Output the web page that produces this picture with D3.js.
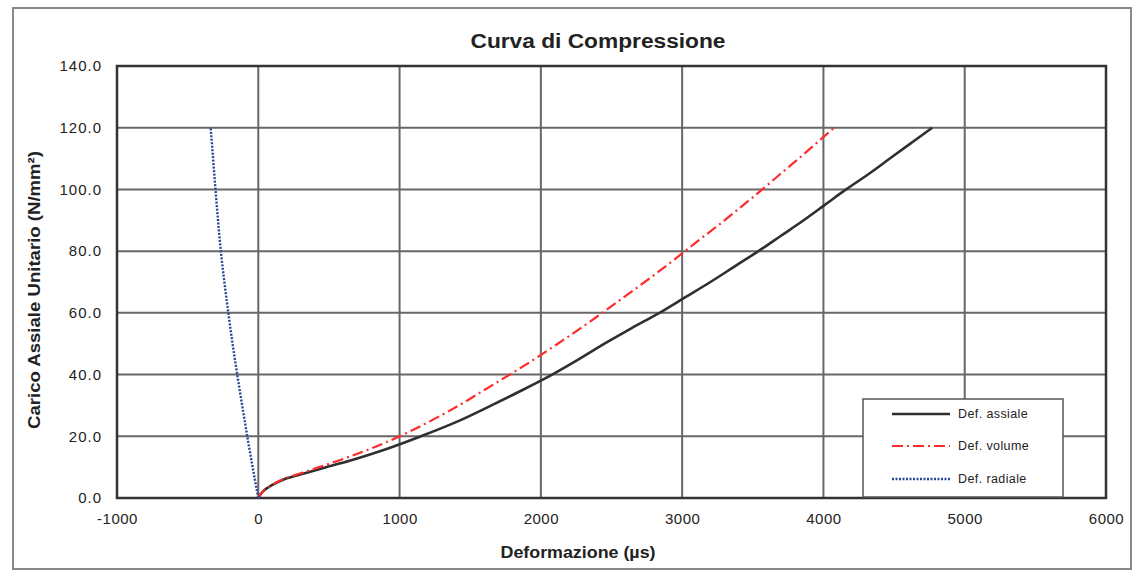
<!DOCTYPE html>
<html><head><meta charset="utf-8">
<script src="https://cdn.jsdelivr.net/npm/d3@7"></script>
<style>body{margin:0;background:#fff;}svg{display:block;font-family:Arial,"Liberation Sans",sans-serif;}</style>
</head><body><svg id="c" width="1138" height="578"></svg>
<script>
const stress = [0,2,4,6,8,10,12,15,20,25,30,35,40,45,50,55,60,65,70,75,80,85,90,95,100,105,110,115,120];
const axialStrain = [0,30,90,180,330,480,640,850,1150,1420,1650,1870,2080,2270,2450,2640,2840,3020,3200,3370,3540,3700,3860,4010,4160,4320,4470,4620,4770];
const volumeStrain = [0,30,90,170,300,430,560,740,1000,1220,1420,1600,1780,1955,2120,2280,2435,2585,2735,2880,3020,3160,3300,3435,3567,3695,3825,3950,4076];
const radialStress = [0,10,20,30,40,50,60,70,80,90,100,110,120];
const radialStrain = [0,-40,-78,-114,-149,-182,-212,-240,-265,-285,-303,-320,-337];
const xTicks = [-1000,0,1000,2000,3000,4000,5000,6000];
const yTicks = [0,20,40,60,80,100,120,140];
const seriesNames = ["Def. assiale","Def. volume","Def. radiale"];

const svg = d3.select("#c");
const L=117,R=1106,T=66,B=498;
const x = d3.scaleLinear().domain([-1000,6000]).range([L,R]);
const y = d3.scaleLinear().domain([0,140]).range([B,T]);

// outer frame
svg.append("rect").attr("x",13).attr("y",8).attr("width",1118).attr("height",561)
  .attr("fill","none").attr("stroke","#888").attr("stroke-width",2);

// grid
svg.append("g").selectAll("line").data(xTicks).join("line")
  .attr("x1",d=>x(d)).attr("x2",d=>x(d)).attr("y1",T).attr("y2",B)
  .attr("stroke","#6a6666").attr("stroke-width",2);
svg.append("g").selectAll("line").data(yTicks).join("line")
  .attr("x1",L).attr("x2",R).attr("y1",d=>y(d)).attr("y2",d=>y(d))
  .attr("stroke","#6a6666").attr("stroke-width",2);
svg.append("rect").attr("x",L).attr("y",T).attr("width",R-L).attr("height",B-T)
  .attr("fill","none").attr("stroke","#333").attr("stroke-width",2.5);

// axes labels
const xAxis = d3.axisBottom(x).tickValues(xTicks).tickSize(0).tickPadding(15).tickFormat(d=>String(d));
const gx = svg.append("g").attr("transform",`translate(0,${B})`).call(xAxis);
gx.select(".domain").remove();
gx.selectAll("text").attr("font-size",15).attr("letter-spacing",0.5).attr("fill","#222").attr("font-family","Arial");
const yAxis = d3.axisLeft(y).tickValues(yTicks).tickSize(0).tickPadding(15).tickFormat(d3.format(".1f"));
const gy = svg.append("g").attr("transform",`translate(${L},0)`).call(yAxis);
gy.select(".domain").remove();
gy.selectAll("text").attr("font-size",15).attr("letter-spacing",1).attr("fill","#222").attr("font-family","Arial");

// title & axis titles
svg.append("text").attr("x",598).attr("y",48).attr("text-anchor","middle")
  .attr("font-size",20).attr("font-weight","bold").attr("fill","#222")
  .attr("textLength",255).attr("lengthAdjust","spacingAndGlyphs").text("Curva di Compressione");
svg.append("text").attr("x",578).attr("y",558).attr("text-anchor","middle")
  .attr("font-size",16).attr("font-weight","bold").attr("fill","#222")
  .attr("textLength",155).attr("lengthAdjust","spacingAndGlyphs").text("Deformazione (µs)");
svg.append("text").attr("transform","translate(40,290) rotate(-90)").attr("text-anchor","middle")
  .attr("font-size",16).attr("font-weight","bold").attr("fill","#222")
  .attr("textLength",278).attr("lengthAdjust","spacingAndGlyphs").text("Carico Assiale Unitario (N/mm²)");

// series
const line = d3.line().curve(d3.curveMonotoneY);
const axialPts = stress.map((s,i)=>[x(axialStrain[i]),y(s)]);
const volPts = stress.map((s,i)=>[x(volumeStrain[i]),y(s)]);
const radPts = radialStress.map((s,i)=>[x(radialStrain[i]),y(s)]);
const styles = [
  {color:"#2f2f2f",w:2.6,dash:null},
  {color:"#ff2b2b",w:2.2,dash:"11,4,2,4"},
  {color:"#2b4596",w:2.4,dash:"2,1.5"}
];
[axialPts,volPts,radPts].forEach((pts,i)=>{
  svg.append("path").attr("d",line(pts)).attr("fill","none")
    .attr("stroke",styles[i].color).attr("stroke-width",styles[i].w)
    .attr("stroke-dasharray",styles[i].dash);
});

// legend
const lg = svg.append("g");
lg.append("rect").attr("x",863).attr("y",399).attr("width",200).attr("height",98)
  .attr("fill","#fff").attr("stroke","#555").attr("stroke-width",1.5);
const ly = [414,446,479];
seriesNames.forEach((n,i)=>{
  lg.append("line").attr("x1",892).attr("x2",950).attr("y1",ly[i]).attr("y2",ly[i])
    .attr("stroke",styles[i].color).attr("stroke-width",styles[i].w)
    .attr("stroke-dasharray",styles[i].dash);
  lg.append("text").attr("x",958).attr("y",ly[i]+4).attr("font-size",12.5).attr("letter-spacing",0.4).attr("fill","#222").text(n);
});
</script></body></html>
